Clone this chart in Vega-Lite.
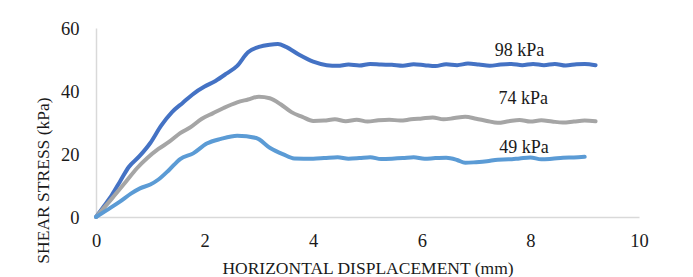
{
  "$schema": "https://vega.github.io/schema/vega-lite/v6.json",
  "width": 543,
  "height": 189,
  "autosize": "none",
  "padding": {"left": 96, "top": 28, "right": 54, "bottom": 60},
  "background": "white",
  "config": {
    "view": {"stroke": null},
    "font": "Liberation Serif",
    "axis": {
      "grid": false,
      "ticks": false,
      "labelFlush": false,
      "domainColor": "#d9d9d9",
      "domainWidth": 1.5,
      "labelFont": "Liberation Serif",
      "titleFont": "Liberation Serif",
      "labelFontSize": 18.5,
      "titleFontSize": 17.5,
      "labelColor": "#1a1a1a",
      "titleColor": "#1a1a1a",
      "titleFontWeight": "normal"
    }
  },
  "datasets": {
    "curves": [
      {"series": "98 kPa", "x": 0, "y": 0},
      {"series": "98 kPa", "x": 0.15, "y": 3.5},
      {"series": "98 kPa", "x": 0.3, "y": 7.2},
      {"series": "98 kPa", "x": 0.45, "y": 11.5},
      {"series": "98 kPa", "x": 0.6, "y": 15.8},
      {"series": "98 kPa", "x": 0.8, "y": 19.3},
      {"series": "98 kPa", "x": 1.0, "y": 23.5},
      {"series": "98 kPa", "x": 1.2, "y": 29.0},
      {"series": "98 kPa", "x": 1.4, "y": 33.3},
      {"series": "98 kPa", "x": 1.6, "y": 36.3},
      {"series": "98 kPa", "x": 1.8, "y": 39.2},
      {"series": "98 kPa", "x": 2.0, "y": 41.4},
      {"series": "98 kPa", "x": 2.2, "y": 43.2},
      {"series": "98 kPa", "x": 2.4, "y": 45.5},
      {"series": "98 kPa", "x": 2.6, "y": 48.0},
      {"series": "98 kPa", "x": 2.8, "y": 52.3},
      {"series": "98 kPa", "x": 3.0, "y": 54.0},
      {"series": "98 kPa", "x": 3.2, "y": 54.7},
      {"series": "98 kPa", "x": 3.35, "y": 54.9},
      {"series": "98 kPa", "x": 3.5, "y": 54.0},
      {"series": "98 kPa", "x": 3.75, "y": 51.4},
      {"series": "98 kPa", "x": 4.0, "y": 49.3},
      {"series": "98 kPa", "x": 4.25, "y": 48.2},
      {"series": "98 kPa", "x": 4.45, "y": 48.0},
      {"series": "98 kPa", "x": 4.65, "y": 48.4},
      {"series": "98 kPa", "x": 4.85, "y": 48.1},
      {"series": "98 kPa", "x": 5.05, "y": 48.6},
      {"series": "98 kPa", "x": 5.25, "y": 48.4},
      {"series": "98 kPa", "x": 5.45, "y": 48.3},
      {"series": "98 kPa", "x": 5.65, "y": 48.0},
      {"series": "98 kPa", "x": 5.85, "y": 48.5},
      {"series": "98 kPa", "x": 6.05, "y": 48.2},
      {"series": "98 kPa", "x": 6.25, "y": 47.9},
      {"series": "98 kPa", "x": 6.45, "y": 48.5},
      {"series": "98 kPa", "x": 6.65, "y": 48.2},
      {"series": "98 kPa", "x": 6.85, "y": 48.7},
      {"series": "98 kPa", "x": 7.05, "y": 48.4},
      {"series": "98 kPa", "x": 7.25, "y": 48.0},
      {"series": "98 kPa", "x": 7.45, "y": 48.4},
      {"series": "98 kPa", "x": 7.65, "y": 48.6},
      {"series": "98 kPa", "x": 7.85, "y": 48.2},
      {"series": "98 kPa", "x": 8.05, "y": 48.6},
      {"series": "98 kPa", "x": 8.25, "y": 48.2},
      {"series": "98 kPa", "x": 8.45, "y": 48.6},
      {"series": "98 kPa", "x": 8.65, "y": 48.1},
      {"series": "98 kPa", "x": 8.85, "y": 48.5},
      {"series": "98 kPa", "x": 9.0, "y": 48.6},
      {"series": "98 kPa", "x": 9.2, "y": 48.2},

      {"series": "74 kPa", "x": 0, "y": 0},
      {"series": "74 kPa", "x": 0.3, "y": 6.0},
      {"series": "74 kPa", "x": 0.55, "y": 11.2},
      {"series": "74 kPa", "x": 0.75, "y": 15.4},
      {"series": "74 kPa", "x": 0.95, "y": 18.8},
      {"series": "74 kPa", "x": 1.15, "y": 21.6},
      {"series": "74 kPa", "x": 1.35, "y": 23.9},
      {"series": "74 kPa", "x": 1.55, "y": 26.6},
      {"series": "74 kPa", "x": 1.75, "y": 28.6},
      {"series": "74 kPa", "x": 1.95, "y": 31.2},
      {"series": "74 kPa", "x": 2.15, "y": 32.9},
      {"series": "74 kPa", "x": 2.35, "y": 34.6},
      {"series": "74 kPa", "x": 2.6, "y": 36.4},
      {"series": "74 kPa", "x": 2.8, "y": 37.3},
      {"series": "74 kPa", "x": 3.0, "y": 38.2},
      {"series": "74 kPa", "x": 3.2, "y": 37.7},
      {"series": "74 kPa", "x": 3.4, "y": 35.8},
      {"series": "74 kPa", "x": 3.6, "y": 33.3},
      {"series": "74 kPa", "x": 3.8, "y": 31.8},
      {"series": "74 kPa", "x": 4.0, "y": 30.5},
      {"series": "74 kPa", "x": 4.2, "y": 30.6},
      {"series": "74 kPa", "x": 4.4, "y": 31.0},
      {"series": "74 kPa", "x": 4.6, "y": 30.4},
      {"series": "74 kPa", "x": 4.8, "y": 30.9},
      {"series": "74 kPa", "x": 5.0, "y": 30.3},
      {"series": "74 kPa", "x": 5.2, "y": 30.7},
      {"series": "74 kPa", "x": 5.4, "y": 30.9},
      {"series": "74 kPa", "x": 5.6, "y": 30.6},
      {"series": "74 kPa", "x": 5.8, "y": 31.0},
      {"series": "74 kPa", "x": 6.0, "y": 31.3},
      {"series": "74 kPa", "x": 6.2, "y": 31.6},
      {"series": "74 kPa", "x": 6.4, "y": 31.0},
      {"series": "74 kPa", "x": 6.6, "y": 31.4},
      {"series": "74 kPa", "x": 6.8, "y": 31.8},
      {"series": "74 kPa", "x": 7.0, "y": 31.2},
      {"series": "74 kPa", "x": 7.2, "y": 30.5},
      {"series": "74 kPa", "x": 7.4, "y": 29.9},
      {"series": "74 kPa", "x": 7.6, "y": 30.4},
      {"series": "74 kPa", "x": 7.8, "y": 30.8},
      {"series": "74 kPa", "x": 8.0, "y": 30.3},
      {"series": "74 kPa", "x": 8.2, "y": 30.7},
      {"series": "74 kPa", "x": 8.4, "y": 30.3},
      {"series": "74 kPa", "x": 8.6, "y": 30.0},
      {"series": "74 kPa", "x": 8.8, "y": 30.3},
      {"series": "74 kPa", "x": 9.0, "y": 30.6},
      {"series": "74 kPa", "x": 9.2, "y": 30.4},

      {"series": "49 kPa", "x": 0, "y": 0},
      {"series": "49 kPa", "x": 0.2, "y": 2.2},
      {"series": "49 kPa", "x": 0.44, "y": 4.9},
      {"series": "49 kPa", "x": 0.65, "y": 7.5},
      {"series": "49 kPa", "x": 0.81, "y": 9.1},
      {"series": "49 kPa", "x": 1.0, "y": 10.3},
      {"series": "49 kPa", "x": 1.15, "y": 11.9},
      {"series": "49 kPa", "x": 1.35, "y": 15.0},
      {"series": "49 kPa", "x": 1.55, "y": 18.4},
      {"series": "49 kPa", "x": 1.79, "y": 20.2},
      {"series": "49 kPa", "x": 2.04, "y": 23.3},
      {"series": "49 kPa", "x": 2.3, "y": 24.8},
      {"series": "49 kPa", "x": 2.6, "y": 25.8},
      {"series": "49 kPa", "x": 2.95, "y": 25.1},
      {"series": "49 kPa", "x": 3.2, "y": 22.0},
      {"series": "49 kPa", "x": 3.45, "y": 19.9},
      {"series": "49 kPa", "x": 3.65, "y": 18.6},
      {"series": "49 kPa", "x": 4.0, "y": 18.5},
      {"series": "49 kPa", "x": 4.2, "y": 18.7},
      {"series": "49 kPa", "x": 4.45, "y": 19.0},
      {"series": "49 kPa", "x": 4.65, "y": 18.5},
      {"series": "49 kPa", "x": 4.85, "y": 18.7},
      {"series": "49 kPa", "x": 5.05, "y": 19.0},
      {"series": "49 kPa", "x": 5.25, "y": 18.4},
      {"series": "49 kPa", "x": 5.45, "y": 18.5},
      {"series": "49 kPa", "x": 5.65, "y": 18.7},
      {"series": "49 kPa", "x": 5.85, "y": 19.0},
      {"series": "49 kPa", "x": 6.05, "y": 18.5},
      {"series": "49 kPa", "x": 6.25, "y": 18.7},
      {"series": "49 kPa", "x": 6.45, "y": 18.8},
      {"series": "49 kPa", "x": 6.65, "y": 18.1},
      {"series": "49 kPa", "x": 6.8, "y": 17.2},
      {"series": "49 kPa", "x": 7.0, "y": 17.4},
      {"series": "49 kPa", "x": 7.2, "y": 17.7},
      {"series": "49 kPa", "x": 7.4, "y": 18.2},
      {"series": "49 kPa", "x": 7.6, "y": 18.3},
      {"series": "49 kPa", "x": 7.8, "y": 18.6},
      {"series": "49 kPa", "x": 8.0, "y": 18.9},
      {"series": "49 kPa", "x": 8.2, "y": 18.3},
      {"series": "49 kPa", "x": 8.4, "y": 18.5},
      {"series": "49 kPa", "x": 8.6, "y": 18.8},
      {"series": "49 kPa", "x": 8.8, "y": 18.9},
      {"series": "49 kPa", "x": 9.0, "y": 19.1}
    ],
    "labels": [
      {"text": "98 kPa", "x": 7.8, "y": 52.6},
      {"text": "74 kPa", "x": 7.87, "y": 37.5},
      {"text": "49 kPa", "x": 7.88, "y": 21.9}
    ]
  },
  "layer": [
    {
      "data": {"name": "curves"},
      "mark": {"type": "line", "interpolate": "monotone", "strokeWidth": 4, "strokeCap": "round", "strokeJoin": "round", "clip": false},
      "encoding": {
        "x": {
          "field": "x", "type": "quantitative",
          "scale": {"domain": [0, 10], "nice": false},
          "axis": {"values": [0, 2, 4, 6, 8, 10], "labelPadding": 14, "title": "HORIZONTAL DISPLACEMENT (mm)", "titleY": 51, "titleBaseline": "middle"}
        },
        "y": {
          "field": "y", "type": "quantitative",
          "scale": {"domain": [0, 60], "nice": false},
          "axis": {"values": [0, 20, 40, 60], "labelPadding": 17, "title": "SHEAR STRESS (kPa)", "titleX": -53, "titleY": 152, "titleAngle": -90, "titleAlign": "center", "titleBaseline": "middle"}
        },
        "color": {
          "field": "series", "type": "nominal",
          "scale": {"domain": ["98 kPa", "74 kPa", "49 kPa"], "range": ["#4472C4", "#A5A5A5", "#5B9BD5"]},
          "legend": null
        },
        "detail": {"field": "series"}
      }
    },
    {
      "data": {"name": "labels"},
      "mark": {"type": "text", "font": "Liberation Serif", "fontSize": 18, "color": "#1a1a1a", "align": "center", "baseline": "middle"},
      "encoding": {
        "x": {"field": "x", "type": "quantitative"},
        "y": {"field": "y", "type": "quantitative"},
        "text": {"field": "text"}
      }
    }
  ]
}
